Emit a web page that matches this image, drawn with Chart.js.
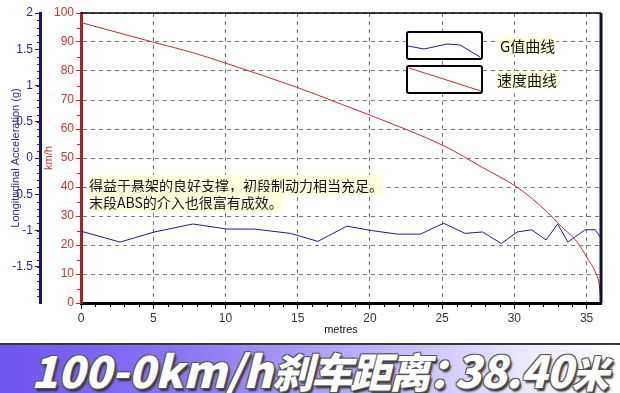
<!DOCTYPE html>
<html><head><meta charset="utf-8">
<script src="https://cdn.jsdelivr.net/npm/chart.js@4"></script>
<style>
html,body{margin:0;padding:0;background:#fff;width:620px;height:393px;overflow:hidden;}
#wrap{position:relative;width:620px;height:393px;}
#cv{position:absolute;left:0;top:0;}
#banner{position:absolute;left:0;top:343px;width:620px;height:48px;border-top:2px solid #3a3a3a;
 background:linear-gradient(to right,#6f53ef 0%,#8d76f3 30%,#beb1f6 60%,#ecE9fc 85%,#ffffff 100%);overflow:hidden;}
#btxt{position:absolute;left:31px;top:-4px;white-space:nowrap;font-family:"Noto Sans CJK SC","Liberation Sans",sans-serif;
 font-weight:900;font-style:italic;font-size:44px;line-height:56px;color:#fff;
 text-shadow:-1px -1px 0 #555,1px -1px 0 #555,-1px 1px 0 #555,1px 1px 0 #555,2px 3px 2px #333;}
#btxt .cjk{font-size:41px;letter-spacing:-2px;}
#btxt .num{letter-spacing:-1px;}
#btxt .mi{font-size:37px;}
#btxt .colon{display:inline-block;width:26px;overflow:visible;font-size:41px;}
.note{position:absolute;left:89px;top:177px;font-family:"Noto Sans CJK SC",sans-serif;font-size:14px;line-height:17px;color:#111;}
.note span{background:rgba(255,255,215,0.85);}
</style></head>
<body><div id="wrap">
<canvas id="cv" width="620" height="343"></canvas>
<div class="note"><span>得益于悬架的良好支撑，初段制动力相当充足。</span><br><span>末段ABS的介入也很富有成效。</span></div>
<div id="banner"><div id="btxt">100-0km/h<span class="cjk">刹车距离</span><span class="colon">：</span><span class="num">38.40</span><span class="mi">米</span></div></div>
</div>
<script>
// ---- data ----
const xTicks = [0, 5, 10, 15, 20, 25, 30, 35];
const speedTicks = [0, 10, 20, 30, 40, 50, 60, 70, 80, 90, 100];
const gTicks = [-1.5, -1, -0.5, 0, 0.5, 1, 1.5, 2];

const gDist = [0, 2.7, 5.1, 7.75, 10.1, 12.0, 14.5, 16.4, 18.4, 20.1, 21.9, 23.5, 25.1, 26.6, 27.8, 29.1, 30.2, 31.2, 32.2, 33.0, 33.7, 34.9, 35.6, 35.95];
const gVals = [-1.01, -1.16, -1.02, -0.91, -0.98, -0.98, -1.04, -1.15, -0.94, -1.0, -1.05, -1.05, -0.90, -1.04, -1.02, -1.18, -1.02, -0.99, -1.13, -0.91, -1.16, -0.99, -0.99, -1.09];

const vDist = [0, 5.1, 7.7, 10.2, 15.1, 18.1, 20.1, 25.2, 27.8, 30.2, 32.3, 33.1, 34.3, 35.1, 35.6, 35.9, 36.0];
const vVals = [96.7, 89.8, 86.4, 82.4, 74.1, 68.4, 64.6, 54.0, 46.7, 39.9, 31.3, 27.1, 21.3, 15.1, 10.7, 5.5, 0];

const legendLabels = ['G值曲线', '速度曲线'];

const NAVY = '#1c1c8a', RED = '#c8282d', GRID = '#7a7a7a';

const extras = {
  id: 'extras',
  beforeDatasetsDraw(chart) {
    const {ctx, chartArea: a, scales} = chart;
    ctx.save();
    ctx.lineWidth = 1;
    ctx.strokeStyle = '#000';
    for (let m = 1; m < 36; m++) {
      if (m % 5 === 0) continue;
      const px = Math.round(scales.x.getPixelForValue(m)) + 0.5;
      ctx.beginPath(); ctx.moveTo(px, a.bottom); ctx.lineTo(px, a.bottom + 4); ctx.stroke();
    }
    ctx.strokeStyle = RED;
    for (let v = 5; v < 100; v += 10) {
      const py = Math.round(scales.v.getPixelForValue(v)) + 0.5;
      ctx.beginPath(); ctx.moveTo(a.left - 4, py); ctx.lineTo(a.left, py); ctx.stroke();
    }
    ctx.strokeStyle = NAVY;
    const gs = scales.g;
    for (let k = -19; k < 20; k++) {
      const py = Math.round(gs.getPixelForValue(k / 10)) + 0.5;
      ctx.beginPath(); ctx.moveTo(gs.right - 3, py); ctx.lineTo(gs.right, py); ctx.stroke();
    }
    ctx.restore();
  },
  afterDraw(chart) {
    const {ctx, chartArea: a} = chart;
    ctx.save();
    ctx.strokeStyle = '#000'; ctx.lineWidth = 1.5;
    ctx.beginPath(); ctx.moveTo(a.left, a.top); ctx.lineTo(a.right, a.top); ctx.stroke();
    ctx.strokeStyle = '#0e0e3c'; ctx.lineWidth = 3;
    ctx.beginPath(); ctx.moveTo(a.right, a.top); ctx.lineTo(a.right, a.bottom); ctx.stroke();
    const bx = a.left + 326, bw = 75, bh = 27;
    const rows = [a.top + 19, a.top + 53];
    ctx.lineWidth = 2; ctx.strokeStyle = '#000';
    rows.forEach(by => {
      ctx.fillStyle = '#fff';
      ctx.beginPath(); ctx.roundRect(bx, by, bw, bh, 2); ctx.fill(); ctx.stroke();
    });
    ctx.lineWidth = 1;
    ctx.strokeStyle = NAVY;
    ctx.beginPath();
    const gl = [[1, 14], [17, 17], [40, 12], [53, 13], [73, 25]];
    gl.forEach((p, j) => { const X = bx + p[0], Y = rows[0] + p[1]; j ? ctx.lineTo(X, Y) : ctx.moveTo(X, Y); });
    ctx.stroke();
    ctx.strokeStyle = RED;
    ctx.beginPath(); ctx.moveTo(bx + 2, rows[1] + 2); ctx.lineTo(bx + 74, rows[1] + 25); ctx.stroke();
    ctx.font = '15px "Noto Sans CJK SC"';
    ctx.textBaseline = 'middle';
    const tx = [bx + 93, bx + 90];
    legendLabels.forEach((t, i) => {
      const w = ctx.measureText(t).width;
      ctx.fillStyle = 'rgba(255,255,215,0.85)';
      ctx.fillRect(tx[i] - 1, rows[i] + 5, w + 2, 18);
      ctx.fillStyle = '#111';
      ctx.fillText(t, tx[i], rows[i] + 14);
    });
    ctx.restore();
  }
};

new Chart(document.getElementById('cv'), {
  type: 'line',
  data: {
    datasets: [
      { label: legendLabels[0], data: gDist.map((x, i) => ({x, y: gVals[i]})), yAxisID: 'g',
        borderColor: NAVY, borderWidth: 1, pointRadius: 0, tension: 0, fill: false },
      { label: legendLabels[1], data: vDist.map((x, i) => ({x, y: vVals[i]})), yAxisID: 'v',
        borderColor: RED, borderWidth: 1, pointRadius: 0, cubicInterpolationMode: 'monotone', fill: false }
    ]
  },
  options: {
    responsive: false, animation: false, events: [],
    layout: { padding: { top: 13, right: 19, left: 0, bottom: 0 } },
    plugins: { legend: { display: false }, tooltip: { enabled: false } },
    scales: {
      x: {
        type: 'linear', min: 0, max: 36,
        afterBuildTicks: s => { s.ticks = xTicks.map(v => ({value: v})); },
        afterFit: s => { s.height = 40; },
        grid: { color: GRID, lineWidth: 1, drawTicks: true, tickLength: 6, tickColor: '#000', tickWidth: 1, tickBorderDash: [] },
        border: { display: true, color: '#000', width: 3, dash: [4, 4] },
        ticks: { color: '#333', font: { family: 'Liberation Sans', size: 12 }, padding: 2, maxRotation: 0, callback: v => String(v) },
        title: { display: true, text: 'metres', color: '#111', font: { family: 'Liberation Sans', size: 11 }, padding: { top: 0, bottom: 6 } }
      },
      v: {
        type: 'linear', position: 'left', min: 0, max: 100, weight: 0,
        afterBuildTicks: s => { s.ticks = speedTicks.map(v => ({value: v})); },
        afterFit: s => { s.width = 41; },
        grid: { color: GRID, lineWidth: 1, drawTicks: true, tickLength: 5, tickColor: RED, tickWidth: 1, tickBorderDash: [] },
        border: { display: true, color: '#b01e24', width: 3, dash: [4, 4] },
        ticks: { color: '#c83232', font: { family: 'Liberation Sans', size: 12 }, padding: 2, callback: v => String(v) },
        title: { display: true, text: 'km/h', color: '#c83232', font: { family: 'Liberation Sans', size: 11 }, padding: { top: 2, bottom: 0 } }
      },
      g: {
        type: 'linear', position: 'left', min: -2, max: 2, weight: 1,
        afterBuildTicks: s => { s.ticks = gTicks.map(v => ({value: v})); },
        afterFit: s => { s.width = 40; },
        grid: { drawOnChartArea: false, drawTicks: true, tickLength: 5, tickColor: NAVY, tickWidth: 1 },
        border: { display: true, color: '#16166e', width: 3 },
        ticks: { color: '#2a2a8e', font: { family: 'Liberation Sans', size: 12 }, padding: 2, callback: v => String(v) },
        title: { display: true, text: 'Longitudinal Acceleration (g)', color: '#2a2a8e', font: { family: 'Liberation Sans', size: 11 }, padding: { top: 9, bottom: 0 } }
      }
    }
  },
  plugins: [extras]
});
</script>
</body></html>
